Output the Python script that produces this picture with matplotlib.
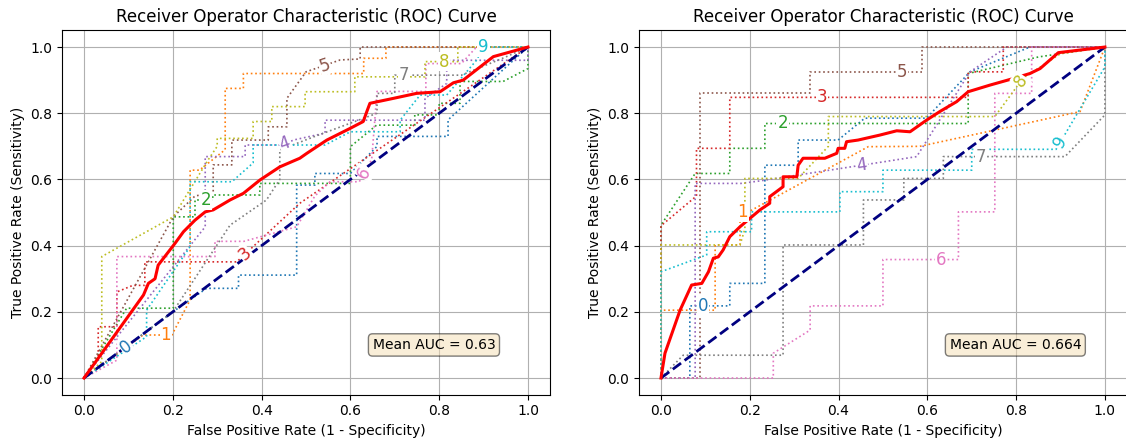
import matplotlib
matplotlib.use('Agg')
import matplotlib.pyplot as plt
import numpy as np

# per-fold ROC curves, left panel
left_fpr = [
    [0, 0.1, 0.2, 0.276, 0.348, 0.348, 0.479, 0.479, 0.52, 0.52, 0.6, 0.66, 0.66, 0.82, 0.82, 1.0],
    [0, 0.133, 0.198, 0.239, 0.239, 0.26, 0.318, 0.318, 0.359, 0.359, 0.63, 0.63, 0.68, 0.68, 1.0],
    [0, 0.096, 0.201, 0.201, 0.25, 0.25, 0.29, 0.29, 0.396, 0.396, 0.6, 0.6, 0.659, 0.745, 0.745, 0.80, 0.80, 0.847, 0.847, 0.944, 1.0, 1.0],
    [0, 0.032, 0.032, 0.074, 0.074, 0.11, 0.137, 0.137, 0.344, 0.486, 1.0],
    [0, 0.273, 0.273, 0.363, 0.363, 0.441, 0.475, 0.543, 0.543, 0.768, 0.768, 0.817, 0.817, 1.0, 1.0],
    [0, 0.201, 0.25, 0.291, 0.291, 0.333, 0.333, 0.415, 0.415, 0.457, 0.457, 0.50, 0.577, 0.622, 0.622, 1.0],
    [0, 0.074, 0.074, 0.295, 0.295, 0.36, 0.479, 0.52, 0.554, 0.62, 0.648, 0.66, 0.77, 0.77, 0.85, 0.884, 1.0],
    [0, 0.2, 0.329, 0.411, 0.441, 0.441, 0.52, 0.6, 0.66, 0.66, 0.70, 0.70, 0.85, 0.95, 1.0],
    [0, 0.04, 0.04, 0.201, 0.28, 0.30, 0.30, 0.381, 0.381, 0.423, 0.423, 0.498, 0.498, 0.61, 0.61, 0.768, 0.768, 0.842, 0.842, 1.0],
    [0, 0.141, 0.141, 0.239, 0.239, 0.333, 0.381, 0.381, 0.543, 0.6, 0.712, 0.712, 0.757, 0.817, 0.884, 0.9, 1.0],
]
left_tpr = [
    [0, 0.1, 0.2, 0.271, 0.271, 0.311, 0.311, 0.583, 0.583, 0.618, 0.618, 0.70, 0.73, 0.73, 0.78, 1.0],
    [0, 0.13, 0.13, 0.236, 0.628, 0.628, 0.69, 0.875, 0.875, 0.92, 0.92, 0.966, 0.966, 1.0, 1.0],
    [0, 0.211, 0.211, 0.487, 0.487, 0.538, 0.538, 0.553, 0.553, 0.588, 0.588, 0.699, 0.764, 0.764, 0.795, 0.795, 0.83, 0.83, 0.896, 0.896, 0.935, 1.0],
    [0, 0.06, 0.155, 0.155, 0.26, 0.28, 0.28, 0.351, 0.351, 0.528, 1.0],
    [0, 0.457, 0.669, 0.669, 0.704, 0.704, 0.72, 0.74, 0.779, 0.779, 0.845, 0.89, 0.96, 0.96, 1.0],
    [0, 0.487, 0.55, 0.56, 0.644, 0.644, 0.719, 0.719, 0.759, 0.759, 0.845, 0.925, 0.961, 0.964, 1.0, 1.0],
    [0, 0.054, 0.367, 0.367, 0.413, 0.413, 0.457, 0.55, 0.593, 0.593, 0.66, 0.866, 0.866, 0.95, 0.95, 1.0, 1.0],
    [0, 0.2, 0.462, 0.538, 0.60, 0.689, 0.73, 0.77, 0.80, 0.86, 0.86, 0.915, 0.915, 0.97, 1.0],
    [0, 0.05, 0.367, 0.487, 0.66, 0.70, 0.724, 0.724, 0.775, 0.775, 0.82, 0.82, 0.865, 0.865, 0.91, 0.91, 0.956, 0.956, 1.0, 1.0],
    [0, 0.125, 0.205, 0.397, 0.593, 0.593, 0.65, 0.704, 0.704, 0.744, 0.744, 0.779, 0.855, 0.855, 0.96, 1.0, 1.0],
]
left_mean_fpr = [0, 0.134, 0.145, 0.16, 0.167, 0.205, 0.224, 0.25, 0.273, 0.291, 0.329, 0.359, 0.396, 0.441,
                 0.486, 0.502, 0.547, 0.599, 0.629, 0.637, 0.644, 0.697, 0.749, 0.802, 0.832, 0.854, 0.922, 1.0]
left_mean_tpr = [0, 0.251, 0.286, 0.30, 0.341, 0.407, 0.442, 0.477, 0.502, 0.508, 0.538, 0.558, 0.598, 0.638,
                 0.664, 0.679, 0.719, 0.754, 0.775, 0.805, 0.83, 0.845, 0.86, 0.865, 0.892, 0.90, 0.971, 1.0]

# per-fold ROC curves, right panel
right_fpr = [
    [0, 0.065, 0.065, 0.155, 0.155, 0.234, 0.234, 0.309, 0.309, 0.399, 0.459, 0.598, 0.696, 0.831, 1.0],
    [0, 0.0, 0.122, 0.122, 0.178, 0.178, 0.197, 0.467, 0.583, 0.944, 1.0],
    [0, 0.0, 0.077, 0.155, 0.155, 0.234, 0.234, 0.692, 0.692, 0.85, 1.0],
    [0, 0.0, 0.08, 0.08, 0.155, 0.155, 0.692, 0.692, 0.771, 0.771, 1.0],
    [0, 0.077, 0.077, 0.18, 0.22, 0.505, 0.576, 0.696, 0.779, 1.0],
    [0, 0.088, 0.088, 0.336, 0.336, 0.587, 0.587, 1.0],
    [0, 0.253, 0.253, 0.336, 0.336, 0.50, 0.50, 0.67, 0.67, 0.752, 0.752, 0.835, 0.835, 1.0],
    [0, 0.05, 0.275, 0.275, 0.456, 0.456, 0.547, 0.547, 0.636, 0.636, 0.91, 1.0, 1.0],
    [0, 0.0, 0.178, 0.189, 0.189, 0.309, 0.377, 0.377, 0.752, 0.815, 0.9, 1.0],
    [0, 0.0, 0.103, 0.103, 0.204, 0.204, 0.403, 0.403, 0.50, 0.50, 0.70, 0.70, 0.89, 1.0, 1.0],
]
right_tpr = [
    [0, 0.0, 0.218, 0.218, 0.286, 0.286, 0.643, 0.643, 0.719, 0.719, 0.785, 0.785, 0.925, 1.0, 1.0],
    [0, 0.205, 0.205, 0.402, 0.402, 0.502, 0.502, 0.699, 0.70, 0.805, 1.0],
    [0, 0.462, 0.618, 0.618, 0.694, 0.694, 0.769, 0.769, 0.92, 0.97, 1.0],
    [0, 0.46, 0.55, 0.694, 0.694, 0.848, 0.848, 0.925, 0.925, 1.0, 1.0],
    [0, 0.0, 0.588, 0.588, 0.595, 0.654, 0.669, 0.925, 1.0, 1.0],
    [0, 0.0, 0.861, 0.861, 0.925, 0.925, 1.0, 1.0],
    [0, 0.0, 0.075, 0.145, 0.218, 0.218, 0.358, 0.358, 0.502, 0.502, 0.86, 0.86, 1.0, 1.0],
    [0, 0.069, 0.069, 0.402, 0.402, 0.538, 0.538, 0.603, 0.603, 0.669, 0.669, 0.795, 1.0],
    [0, 0.402, 0.402, 0.45, 0.603, 0.603, 0.70, 0.79, 0.79, 0.905, 0.98, 1.0],
    [0, 0.321, 0.372, 0.442, 0.442, 0.502, 0.502, 0.563, 0.563, 0.628, 0.628, 0.691, 0.691, 0.94, 1.0],
]
right_mean_fpr = [0, 0.009, 0.043, 0.069, 0.092, 0.107, 0.118, 0.129, 0.14, 0.155, 0.178, 0.20, 0.223, 0.245,
                  0.245, 0.275, 0.275, 0.306, 0.309, 0.32, 0.369, 0.396, 0.399, 0.414, 0.418, 0.444, 0.493,
                  0.531, 0.561, 0.598, 0.628, 0.666, 0.692, 0.741, 0.794, 0.831, 0.854, 0.895, 1.0]
right_mean_tpr = [0, 0.075, 0.205, 0.281, 0.286, 0.321, 0.362, 0.366, 0.387, 0.427, 0.457, 0.482, 0.508, 0.528,
                  0.548, 0.578, 0.608, 0.608, 0.643, 0.664, 0.664, 0.679, 0.694, 0.694, 0.714, 0.719, 0.734,
                  0.747, 0.744, 0.779, 0.805, 0.835, 0.865, 0.885, 0.905, 0.92, 0.935, 0.983, 1.0]

mean_auc = ['0.63', '0.664']
fold_labels = [str(i) for i in range(10)]


def label_curve(ax, xs, ys, x, text, color):
    xs = np.asarray(xs, dtype=float)
    ys = np.asarray(ys, dtype=float)
    y = np.interp(x, xs, ys)
    i = np.searchsorted(xs, x, side='right')
    i = min(max(i, 1), len(xs) - 1)
    dx, dy = xs[i] - xs[i - 1], ys[i] - ys[i - 1]
    angle = np.degrees(np.arctan2(dy, dx))
    rot = ax.transData.transform_angles(np.array([angle]), np.array([[x, y]]))[0]
    ax.text(x, y, text, color=color, fontsize=12, ha='center', va='center',
            rotation=rot, rotation_mode='anchor', zorder=5,
            bbox=dict(boxstyle='square,pad=0.05', fc='white', ec='none'))


def plot_panel(ax, fprs, tprs, mean_fpr, mean_tpr, auc):
    ax.set_xlim(-0.05, 1.05)
    ax.set_ylim(-0.05, 1.05)
    colors = plt.get_cmap('tab10').colors
    for k, (f, t) in enumerate(zip(fprs, tprs)):
        ax.plot(f, t, ':', color=colors[k], lw=1.2, zorder=2)
    ax.plot([0, 1], [0, 1], '--', color='navy', lw=2, zorder=3)
    ax.plot(mean_fpr, mean_tpr, color='red', lw=2.2, zorder=4)
    label_x = np.linspace(0.095, 0.9, 10)
    for k, (f, t) in enumerate(zip(fprs, tprs)):
        label_curve(ax, f, t, label_x[k], fold_labels[k], colors[k])
    ax.text(0.65, 0.1, f'Mean AUC = {auc}', fontsize=10, va='center',
            bbox=dict(boxstyle='round', facecolor='wheat', alpha=0.5), zorder=6)
    ax.grid(True)
    ax.set_title('Receiver Operator Characteristic (ROC) Curve')
    ax.set_xlabel('False Positive Rate (1 - Specificity)')
    ax.set_ylabel('True Positive Rate (Sensitivity)')


fig = plt.figure(figsize=(11.26, 4.38), dpi=100)
ax1 = fig.add_axes([0.0549, 0.0991, 0.4337, 0.8313])
ax2 = fig.add_axes([0.5673, 0.0991, 0.4337, 0.8313])
plot_panel(ax1, left_fpr, left_tpr, left_mean_fpr, left_mean_tpr, mean_auc[0])
plot_panel(ax2, right_fpr, right_tpr, right_mean_fpr, right_mean_tpr, mean_auc[1])
fig.savefig('out.png', dpi=100)
